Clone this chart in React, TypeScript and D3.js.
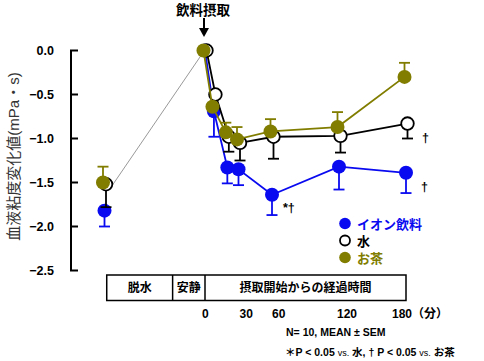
import React from "react";
import * as d3 from "d3";

// ---- data ----
const times = [0, 8, 20, 30, 60, 120, 180];
const preTime = -90; // dehydration (脱水) measurement
const ionValues = [0, -0.69, -1.33, -1.35, -1.64, -1.32, -1.39];
const ionErr = [0, 0.29, 0.18, 0.18, 0.23, 0.26, 0.23];
const ionPre = -1.82;
const ionPreErr = 0.18;
const waterValues = [0, -0.5, -0.98, -1.05, -0.98, -0.97, -0.83];
const waterErr = [0, 0, 0.17, 0.2, 0.25, 0.19, 0.17];
const waterPre = -1.52;
const waterPreErr = 0.26;
const teaValues = [0, -0.64, -0.93, -1.01, -0.92, -0.87, -0.3];
const teaErr = [0, 0, 0.11, 0.14, 0.14, 0.17, 0.16];
const teaPre = -1.5;
const teaPreErr = 0.18;

const yTicks = [0, -0.5, -1, -1.5, -2, -2.5];
const xTickValues = [0, 30, 60, 120, 180];
const xTickLabels = ["0", "30", "60", "120", "180（分）"];
const phaseLabels = ["脱水", "安静", "摂取開始からの経過時間"];
const phaseBounds = [-88, -29, 0, 180];
const legendLabels = ["イオン飲料", "水", "お茶"];

// ---- layout / style ----
const W = 484;
const H = 361;
const BLUE = "#0a0af0";
const OLIVE = "#817d00";
const BLACK = "#000";
const FONT = "'Liberation Sans', Arial, 'Noto Sans CJK JP', sans-serif";
const xTickDx = [-3, 1, 0, -2, -14];

const x = d3.scaleLinear().domain([-90, 180]).range([104.5, 406]);
const y = d3.scaleLinear().domain([0, -2.5]).range([50.5, 270.5]);

type Series = {
  name: string;
  values: number[];
  err: number[];
  pre: number;
  preErr: number;
  color: string;
  filled: boolean;
  errDir: number; // 1 = down, -1 = up
  dx: number;
};

const series: Series[] = [
  { name: legendLabels[0], values: ionValues, err: ionErr, pre: ionPre, preErr: ionPreErr, color: BLUE, filled: true, errDir: 1, dx: 0 },
  { name: legendLabels[1], values: waterValues, err: waterErr, pre: waterPre, preErr: waterPreErr, color: BLACK, filled: false, errDir: 1, dx: 1.5 },
  { name: legendLabels[2], values: teaValues, err: teaErr, pre: teaPre, preErr: teaPreErr, color: OLIVE, filled: true, errDir: -1, dx: -1.5 },
];

const annotations = [
  { s: 0, i: 4, text: "*†", dx: 11, dy: 17 },
  { s: 1, i: 6, text: "†", dx: 16, dy: 18 },
  { s: 0, i: 6, text: "†", dx: 15, dy: 18 },
];

function SeriesMarks({ s }: { s: Series }) {
  const pts = times.map((t, i) => ({ t, v: s.values[i], e: s.err[i] }));
  const all = [{ t: preTime, v: s.pre, e: s.preErr }, ...pts];
  const line = d3
    .line<{ t: number; v: number }>()
    .x((d) => x(d.t) + s.dx)
    .y((d) => y(d.v));
  const cap = 5.5;
  return (
    <g>
      <path d={line(pts) || ""} fill="none" stroke={s.color} strokeWidth={1.8} />
      {all.map((d, i) => {
        if (!d.e) return null;
        const cx = x(d.t) + s.dx;
        const y0 = y(d.v);
        const y1 = y(d.v - s.errDir * d.e);
        return (
          <g key={"e" + i} stroke={s.color} strokeWidth={1.8}>
            <line x1={cx} x2={cx} y1={y0} y2={y1} />
            <line x1={cx - cap} x2={cx + cap} y1={y1} y2={y1} />
          </g>
        );
      })}
      {all.map((d, i) => (
        <circle
          key={"c" + i}
          cx={x(d.t) + s.dx}
          cy={y(d.v)}
          r={s.filled ? 7 : 6.3}
          fill={s.filled ? s.color : "#fff"}
          stroke={s.filled ? "none" : s.color}
          strokeWidth={1.8}
        />
      ))}
    </g>
  );
}

export default function App() {
  const water = series[1];
  return (
    <svg
      width={W}
      height={H}
      style={{ position: "absolute", left: 0, top: 0, background: "#fff" }}
      fontFamily={FONT}
    >
      <rect width={W} height={H} fill="#fff" />
      {/* top annotation */}
      <text x={x(0) - 2} y={15} textAnchor="middle" fontSize={13.5} fontWeight="bold">
        飲料摂取
      </text>
      <line x1={x(0) - 1} x2={x(0) - 1} y1={18} y2={29} stroke="#000" strokeWidth={2} />
      <path d={`M${x(0) - 6},28 L${x(0) + 4},28 L${x(0) - 1},37 Z`} fill="#000" />

      {/* y axis */}
      <line x1={71} x2={71} y1={y(0)} y2={y(-2.5)} stroke="#000" strokeWidth={2} />
      {yTicks.map((t) => (
        <g key={t}>
          <line x1={70} x2={78} y1={y(t)} y2={y(t)} stroke="#000" strokeWidth={2} />
          <text x={54} y={y(t) + 4.5} textAnchor="end" fontSize={12.5} fontWeight="bold">
            {t === 0 ? "0.0" : "−" + Math.abs(t).toFixed(1)}
          </text>
        </g>
      ))}
      <text
        transform={`translate(19,${(y(0) + y(-2.5)) / 2 - 4}) rotate(-90)`}
        textAnchor="middle"
        fontSize={15}
        fill="#333"
      >
        血液粘度変化値(mPa・s)
      </text>

      {/* connector from dehydration to 0 */}
      <line
        x1={x(preTime) + water.dx + 5}
        y1={y(water.pre) + 3}
        x2={x(0) - 4}
        y2={y(0) + 5}
        stroke="#999"
        strokeWidth={1}
      />

      {series.map((s) => (
        <SeriesMarks key={s.name} s={s} />
      ))}

      {annotations.map((a, k) => (
        <text
          key={k}
          x={x(times[a.i]) + a.dx}
          y={y(series[a.s].values[a.i]) + a.dy}
          fontSize={12.5}
          fontWeight="bold"
        >
          {a.text}
        </text>
      ))}

      {/* legend */}
      {series.map((s, i) => (
        <g key={"lg" + i} transform={`translate(345,${223.5 + i * 17})`}>
          <circle
            r={s.filled ? 5.8 : 5}
            fill={s.filled ? s.color : "#fff"}
            stroke={s.filled ? "none" : s.color}
            strokeWidth={1.8}
          />
          <text x={12} y={5} fontSize={13} fontWeight="bold" fill={s.color}>
            {s.name}
          </text>
        </g>
      ))}

      {/* phase box */}
      <rect
        x={x(phaseBounds[0])}
        y={275}
        width={x(phaseBounds[3]) - x(phaseBounds[0])}
        height={25.5}
        fill="none"
        stroke="#000"
        strokeWidth={1.5}
      />
      {phaseBounds.slice(1, 3).map((b) => (
        <line key={b} x1={x(b)} x2={x(b)} y1={275} y2={300.5} stroke="#000" strokeWidth={1.5} />
      ))}
      {phaseLabels.map((l, i) => (
        <text
          key={l}
          x={(x(phaseBounds[i]) + x(phaseBounds[i + 1])) / 2}
          y={292}
          textAnchor="middle"
          fontSize={12}
          fontWeight="bold"
        >
          {l}
        </text>
      ))}

      {/* x tick labels */}
      {xTickValues.map((t, i) => (
        <text key={t} x={x(t) + xTickDx[i]} y={318} fontSize={12} fontWeight="bold">
          {xTickLabels[i]}
        </text>
      ))}

      {/* footnotes */}
      <text x={286} y={336} fontSize={10.5} fontWeight="bold">
        N= 10, MEAN ± SEM
      </text>
      <text x={285} y={356} fontSize={10.5} fontWeight="bold">
        ＊P &lt; 0.05 <tspan fontWeight="normal" fontSize={9}>vs.</tspan> 水, † P &lt; 0.05{" "}
        <tspan fontWeight="normal" fontSize={9}>vs.</tspan> お茶
      </text>
    </svg>
  );
}
